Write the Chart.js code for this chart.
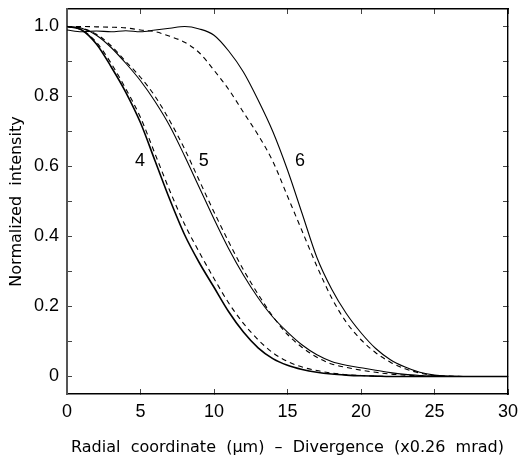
<!DOCTYPE html>
<html>
<head>
<meta charset="utf-8">
<script src="https://cdn.jsdelivr.net/npm/chart.js@4.4.1/dist/chart.umd.min.js"></script>
<style>
  body { margin: 0; background: #fff; }
  #wrap { width: 520px; height: 460px; }
</style>
</head>
<body>
<div id="wrap"><canvas id="profileChart" width="520" height="460"></canvas></div>
<script>
// radial coordinate (um) / divergence
const radius = [0, 1, 2, 3, 4, 5, 6, 7, 8, 9, 10, 11, 12, 13, 14, 15, 16, 17, 18, 19, 20, 21, 22, 23, 24, 25, 26, 27, 28, 29, 30];

// normalized intensity
const curve4Solid = [1.000, 0.990, 0.950, 0.885, 0.812, 0.725, 0.615, 0.505, 0.405, 0.325, 0.255, 0.185, 0.127, 0.082, 0.051, 0.032, 0.020, 0.012, 0.007, 0.004, 0.002, 0.001, 0, 0, 0, 0, 0, 0, 0, 0, 0];
const curve4Dashed = [1.000, 0.990, 0.955, 0.895, 0.822, 0.740, 0.635, 0.530, 0.435, 0.355, 0.280, 0.210, 0.152, 0.105, 0.068, 0.043, 0.027, 0.017, 0.010, 0.005, 0.003, 0.001, 0, 0, 0, 0, 0, 0, 0, 0, 0];
const curve5Solid = [1.000, 0.995, 0.975, 0.940, 0.895, 0.845, 0.785, 0.715, 0.630, 0.540, 0.450, 0.365, 0.290, 0.225, 0.170, 0.127, 0.090, 0.062, 0.043, 0.032, 0.025, 0.018, 0.011, 0.006, 0.003, 0.001, 0, 0, 0, 0, 0];
const curve5Dashed = [1.000, 0.995, 0.978, 0.945, 0.900, 0.855, 0.800, 0.730, 0.650, 0.560, 0.470, 0.385, 0.305, 0.235, 0.172, 0.120, 0.083, 0.055, 0.036, 0.026, 0.018, 0.012, 0.007, 0.004, 0.002, 0.001, 0, 0, 0, 0, 0];
const curve6Solid = [0.990, 0.985, 0.987, 0.985, 0.988, 0.985, 0.990, 0.995, 1.000, 0.993, 0.975, 0.930, 0.870, 0.790, 0.700, 0.590, 0.465, 0.340, 0.250, 0.180, 0.125, 0.080, 0.048, 0.027, 0.012, 0.004, 0.001, 0, 0, 0, 0];
const curve6Dashed = [1.000, 1.000, 0.999, 0.998, 0.996, 0.990, 0.985, 0.972, 0.955, 0.925, 0.875, 0.820, 0.755, 0.690, 0.615, 0.515, 0.415, 0.315, 0.225, 0.155, 0.105, 0.068, 0.041, 0.022, 0.010, 0.003, 0.001, 0, 0, 0, 0];

// curve numbers placed next to the curves (data coordinates)
const curveLabels = ['4', '5', '6'];
const curveLabelX = [4.97, 9.3, 15.85];
const curveLabelY = [0.617, 0.617, 0.617];

// tick positions; y gets a mark every 0.1 but a label every 0.2
const xTickValues = [0, 5, 10, 15, 20, 25, 30];
const yTickValues = [0, 0.1, 0.2, 0.3, 0.4, 0.5, 0.6, 0.7, 0.8, 0.9, 1.0];
const yTickLabels = ['0', '', '0.2', '', '0.4', '', '0.6', '', '0.8', '', '1.0'];

function points(values) {
    return radius.map((r, i) => ({ x: r, y: values[i] }));
}

function curve(values, dashed, width) {
    return {
        data: points(values),
        borderColor: '#000',
        borderWidth: width || 1.1,
        borderDash: dashed ? [5, 4] : [],
        pointRadius: 0,
        fill: false,
        cubicInterpolationMode: 'monotone'
    };
}

function setXTicks(scale) {
    scale.ticks = xTickValues.map(v => ({ value: v }));
}
function setYTicks(scale) {
    scale.ticks = yTickValues.map(v => ({ value: v }));
}

// fixed axis sizes, and no extra room for half-labels at the ends
function fixSize(w, h) {
    return function(scale) {
        if (w !== null) scale.width = w;
        if (h !== null) scale.height = h;
        scale.paddingTop = 0;
        scale.paddingBottom = 0;
        scale.paddingLeft = 0;
        scale.paddingRight = 0;
    };
}

const tickFont = { family: 'Liberation Sans', size: 18 };
const titleFont = { family: 'DejaVu Sans', size: 16 };

// draws the numbers 4, 5, 6 beside the curves
const curveLabelPlugin = {
    id: 'curveLabels',
    afterDatasetsDraw(chart) {
        const ctx = chart.ctx;
        const xs = chart.scales.x;
        const ys = chart.scales.y;
        ctx.save();
        ctx.fillStyle = '#000';
        ctx.font = '18px "Liberation Sans"';
        ctx.textAlign = 'center';
        ctx.textBaseline = 'middle';
        curveLabels.forEach((t, i) => {
            ctx.fillText(t, xs.getPixelForValue(curveLabelX[i]), ys.getPixelForValue(curveLabelY[i]));
        });
        ctx.restore();
    }
};

new Chart(document.getElementById('profileChart'), {
    type: 'line',
    data: {
        datasets: [
            curve(curve4Solid, false, 1.6),
            curve(curve4Dashed, true),
            curve(curve5Solid, false),
            curve(curve5Dashed, true),
            curve(curve6Solid, false),
            curve(curve6Dashed, true)
        ]
    },
    options: {
        responsive: false,
        animation: false,
        layout: { padding: { left: 0, right: 12, top: 9, bottom: 0 } },
        plugins: {
            legend: { display: false },
            tooltip: { enabled: false }
        },
        scales: {
            x: {
                type: 'linear',
                position: 'bottom',
                min: 0,
                max: 30,
                afterBuildTicks: setXTicks,
                ticks: {
                    color: '#000',
                    font: tickFont,
                    padding: 12,
                    maxRotation: 0,
                    autoSkip: false
                },
                grid: { drawOnChartArea: false, drawTicks: true, tickLength: -5, color: '#444' },
                border: { color: '#000', width: 1.6 },
                title: {
                    display: true,
                    text: 'Radial  coordinate  (\u03bcm)  \u2013  Divergence  (x0.26  mrad)',
                    color: '#000',
                    font: titleFont,
                    padding: { top: 0, bottom: 3 }
                },
                afterFit: fixSize(null, 66)
            },
            x2: {
                type: 'linear',
                position: 'top',
                min: 0,
                max: 30,
                afterBuildTicks: setXTicks,
                ticks: { display: false },
                grid: { drawOnChartArea: false, drawTicks: true, tickLength: -5, color: '#444' },
                border: { color: '#000', width: 1.4 },
                afterFit: fixSize(null, 0)
            },
            y: {
                type: 'linear',
                position: 'left',
                min: -0.05,
                max: 1.05,
                afterBuildTicks: setYTicks,
                ticks: {
                    color: '#000',
                    font: tickFont,
                    padding: 13,
                    autoSkip: false,
                    callback(v, i) { return yTickLabels[i]; }
                },
                grid: { drawOnChartArea: false, drawTicks: true, tickLength: -5, color: '#444' },
                border: { color: '#555', width: 2 },
                title: {
                    display: true,
                    text: 'Normalized  intensity',
                    color: '#000',
                    font: titleFont,
                    padding: { top: 7, bottom: 0 }
                },
                afterFit: fixSize(67, null)
            },
            y2: {
                type: 'linear',
                position: 'right',
                min: -0.05,
                max: 1.05,
                afterBuildTicks: setYTicks,
                ticks: { display: false },
                grid: { drawOnChartArea: false, drawTicks: true, tickLength: -5, color: '#444' },
                border: { color: '#000', width: 1.4 },
                afterFit: fixSize(0, null)
            }
        }
    },
    plugins: [curveLabelPlugin]
});
</script>
</body>
</html>
